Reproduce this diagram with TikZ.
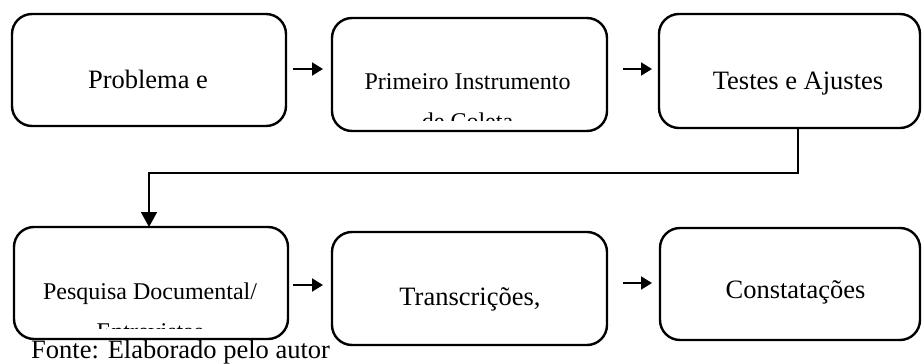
\documentclass[tikz,border=0pt]{standalone}
\usepackage{fontspec}
\setmainfont{Liberation Serif}
\usetikzlibrary{arrows.meta,calc}
\tikzset{
  box/.style={draw=black, line width=2.4pt, rounded corners=20pt, inner sep=0pt, outer sep=0pt},
  bigtxt/.style={inner sep=0pt, anchor=base, font=\fontsize{26.5}{30}\selectfont},
  smalltxt/.style={inner sep=0pt, anchor=base, font=\fontsize{24}{28}\selectfont},
  arr/.style={line width=2pt, -{Triangle[length=11pt,width=13pt]}},
  conn/.style={line width=1.5pt, -{Triangle[length=15pt,width=16pt]}},
}
\begin{document}
\begin{tikzpicture}[x=1pt,y=-1pt]
\useasboundingbox (0,0) rectangle (922,364);
% boxes
\node[box, minimum width=274pt, minimum height=112pt] (b1) at (149,70) {};
\node[box, minimum width=275pt, minimum height=113pt] (b2) at (469.5,74.5) {};
\node[box, minimum width=261pt, minimum height=114pt] (b3) at (789.5,71) {};
\node[box, minimum width=274pt, minimum height=112pt] (b4) at (151,283) {};
\node[box, minimum width=275pt, minimum height=113pt] (b5) at (469.5,288.5) {};
\node[box, minimum width=260pt, minimum height=112pt] (b6) at (790,284) {};
% texts
\node[bigtxt] (t1) at (148,88) {Problema e};
\node[smalltxt] (t2) at (467.5,89) {Primeiro Instrumento};
\begin{scope}
  \clip (340,100) rectangle (600,120);
  \node[smalltxt] (t2b) at (467.5,129) {de Coleta};
\end{scope}
\node[bigtxt] (t3) at (798,89) {Testes e Ajustes};
\node[smalltxt] (t4) at (150,299) {Pesquisa Documental/};
\begin{scope}
  \clip (20,310) rectangle (280,328);
  \node[smalltxt] (t4b) at (150,339) {Entrevistas};
\end{scope}
\node[bigtxt] (t5) at (470,305) {Transcrições,};
\node[bigtxt] (t6) at (795.5,298) {Constatações};
\node[inner sep=0pt, anchor=base west, font=\fontsize{26.5}{30}\selectfont] (fonte) at (31,358) {Fonte: Elaborado pelo autor};
% arrows
\draw[arr, shorten <=7pt, shorten >=9pt] ([yshift=1pt]b1.east) -- ([yshift=1pt]b1.east -| b2.west);
\draw[arr, shorten <=16pt, shorten >=7pt] ([yshift=1pt]b1.east -| b2.east) -- ([yshift=1pt]b1.east -| b3.west);
\draw[arr, shorten <=5pt, shorten >=9pt] ([yshift=-2pt]b4.east) -- ([yshift=-2pt]b4.east -| b5.west);
\draw[arr, shorten <=16pt, shorten >=8pt] (b4.east -| b5.east) -- (b4.east -| b6.west);
% connector
\coordinate (turn) at (149,173);
\draw[conn] ([xshift=8.5pt]b3.south) |- (turn) -- (turn |- b4.north);
\end{tikzpicture}
\end{document}
